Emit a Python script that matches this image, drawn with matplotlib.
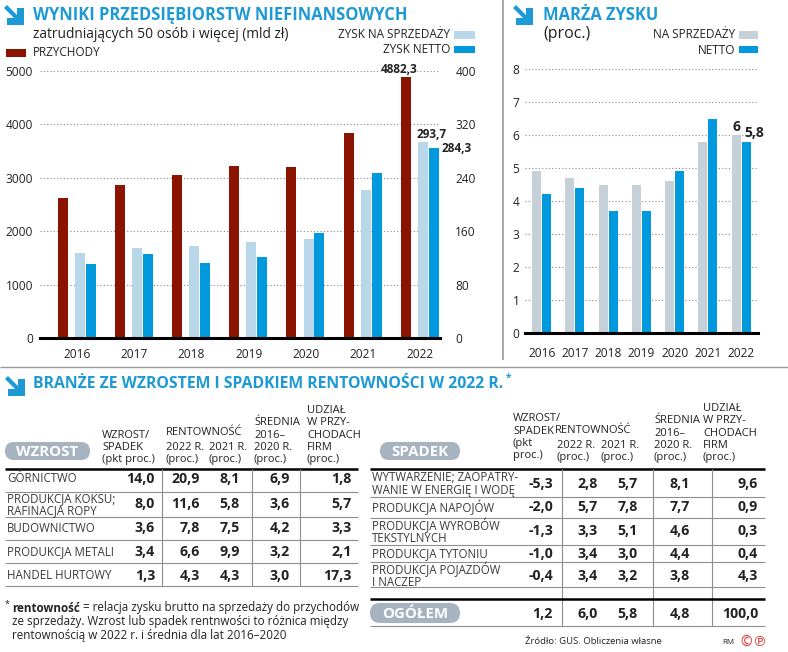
import matplotlib

matplotlib.use("Agg")
import matplotlib.pyplot as plt
import numpy as np
from matplotlib.lines import Line2D
from matplotlib.patches import FancyBboxPatch, Polygon
from matplotlib.transforms import Affine2D

W, H = 788, 652

years = ["2016", "2017", "2018", "2019", "2020", "2021", "2022"]
revenue = [2615, 2860, 3050, 3225, 3200, 3830, 4882.3]
profit_sales = [127.5, 134.5, 137.5, 143.5, 148.5, 221.5, 293.7]
profit_net = [111, 126, 112.5, 121, 158, 247.5, 284.3]
margin_sales = [4.9, 4.7, 4.5, 4.5, 4.6, 5.8, 6.0]
margin_net = [4.2, 4.4, 3.7, 3.7, 4.9, 6.5, 5.8]

growth_names = ["GÓRNICTWO", "PRODUKCJA KOKSU;\nRAFINACJA ROPY", "BUDOWNICTWO",
                "PRODUKCJA METALI", "HANDEL HURTOWY"]
growth_change = [14.0, 8.0, 3.6, 3.4, 1.3]
growth_r2022 = [20.9, 11.6, 7.8, 6.6, 4.3]
growth_r2021 = [8.1, 5.8, 7.5, 9.9, 4.3]
growth_avg = [6.9, 3.6, 4.2, 3.2, 3.0]
growth_share = [1.8, 5.7, 3.3, 2.1, 17.3]

decline_names = ["WYTWARZENIE; ZAOPATRY-\nWANIE W ENERGIĘ I WODĘ", "PRODUKCJA NAPOJÓW",
                 "PRODUKCJA WYROBÓW\nTEKSTYLNYCH", "PRODUKCJA TYTONIU",
                 "PRODUKCJA POJAZDÓW\nI NACZEP"]
decline_change = [-5.3, -2.0, -1.3, -1.0, -0.4]
decline_r2022 = [2.8, 5.7, 3.3, 3.4, 3.4]
decline_r2021 = [5.7, 7.8, 5.1, 3.0, 3.2]
decline_avg = [8.1, 7.7, 4.6, 4.4, 3.8]
decline_share = [9.6, 0.9, 0.3, 0.4, 4.3]

total_values = [1.2, 6.0, 5.8, 4.8, 100.0]

RED = "#8b1400"
LIGHT = "#b8d8ea"
BLUE = "#0099dd"
GREYBAR = "#c5d0d9"
PILL = "#a7b4bf"
TITLE = "#1d9ad6"
TXT = "#222222"
ROWTXT = "#3a3a3a"

plt.rcParams["font.family"] = ["Open Sans", "DejaVu Sans"]

fig = plt.figure(figsize=(W / 100, H / 100), dpi=100)
fig.patch.set_facecolor("white")
# pixel coordinates measured from the top-left corner
P = Affine2D().scale(1 / W, -1 / H).translate(0, 1) + fig.transFigure


def t(x, y, s, **kw):
    kw.setdefault("color", TXT)
    kw.setdefault("va", "center")
    return fig.text(x, y, s, transform=P, **kw)


def line(x0, x1, y0, y1, color="#999999", lw=0.8):
    fig.add_artist(Line2D([x0, x1], [y0, y1], transform=P, color=color, lw=lw,
                          solid_capstyle="butt"))


def arrow_icon(x0, y0, s=1.0):
    pts = [(3, 0), (13, 10), (13, 3), (20, 3), (20, 20), (3, 20), (3, 13), (10, 13), (0, 3)]
    fig.add_artist(Polygon([(x0 + px * s, y0 + py * s) for px, py in pts], closed=True,
                           transform=P, facecolor=TITLE, edgecolor="none"))


def pill(x0, y0, x1, y1, label):
    h = y1 - y0
    fig.add_artist(FancyBboxPatch((x0, y0), x1 - x0, h, transform=P,
                                  boxstyle=f"round,pad=0,rounding_size={h / 2}",
                                  facecolor=PILL, edgecolor="none"))
    t((x0 + x1) / 2, (y0 + y1) / 2 + 0.5, label, ha="center", color="white",
      fontsize=10.8, fontweight="bold")


def swatch(x0, y0, x1, y1, color):
    fig.add_artist(FancyBboxPatch((x0, y0), x1 - x0, y1 - y0, transform=P,
                                  boxstyle="square,pad=0", facecolor=color, edgecolor="none"))


def fmt(v):
    return f"{v:.1f}".replace(".", ",")


# ---------- left chart ----------
arrow_icon(4, 5)
t(33, 15, "WYNIKI PRZEDSIĘBIORSTW NIEFINANSOWYCH", color=TITLE, fontsize=11.9,
  fontweight="bold")
t(33, 34, "zatrudniających 50 osób i więcej (mld zł)", fontsize=9.9)
swatch(6, 49, 26, 57, RED)
t(33, 53, "PRZYCHODY", fontsize=8.5)
t(450, 35, "ZYSK NA SPRZEDAŻY", ha="right", fontsize=8.5)
swatch(454, 31, 475, 39, LIGHT)
t(450, 49.5, "ZYSK NETTO", ha="right", fontsize=8.5)
swatch(454, 46, 475, 53, BLUE)

ax = fig.add_axes([40 / W, 1 - 338 / H, 400 / W, 267 / H])
x = np.arange(len(years))
ax.bar(x - 0.25, revenue, 0.175, color=RED, zorder=2)
ax.set_xlim(-0.65, 6.35)
ax.set_ylim(0, 5000)
ax.set_yticks(range(0, 5001, 1000))
ax.set_xticks(x, years)
ax.grid(axis="y", linestyle=(0, (1, 2)), color="#8a8a8a", lw=0.8)
ax.set_axisbelow(True)
ax.tick_params(length=0, labelsize=8.6, colors=TXT)
ax.tick_params(axis="y", pad=5)
ax.tick_params(axis="x", pad=7)
for sp in ax.spines.values():
    sp.set_visible(False)

ax2 = ax.twinx()
ax2.bar(x + 0.05, profit_sales, 0.175, color=LIGHT, zorder=2)
ax2.bar(x + 0.24, profit_net, 0.175, color=BLUE, zorder=2)
ax2.set_ylim(0, 400)
ax2.set_yticks(range(0, 401, 80))
ax2.tick_params(length=0, labelsize=8.6, colors=TXT, pad=11)
ax2.axhline(0, color="black", lw=2.2, zorder=5, clip_on=False)
for sp in ax2.spines.values():
    sp.set_visible(False)

ax.annotate(fmt(revenue[-1]), (x[-1] - 0.25, revenue[-1]), xytext=(-5, 1),
            textcoords="offset points", ha="center", va="bottom", fontsize=8.5,
            fontweight="bold", color=TXT)
ax2.annotate(fmt(profit_sales[-1]), (x[-1] + 0.05, profit_sales[-1]), xytext=(6, 1),
             textcoords="offset points", ha="center", va="bottom", fontsize=8.5,
             fontweight="bold", color=TXT)
ax2.annotate(fmt(profit_net[-1]), (x[-1] + 0.33, profit_net[-1]), xytext=(2, 0),
             textcoords="offset points", ha="left", va="center", fontsize=8.5,
             fontweight="bold", color=TXT)

# ---------- right chart ----------
line(503, 503, 0, 360, color="#9a9a9a", lw=1.2)
arrow_icon(513, 5)
t(543, 15, "MARŻA ZYSKU", color=TITLE, fontsize=11.9, fontweight="bold")
t(543, 34, "(proc.)", fontsize=11.5)
t(735, 35, "NA SPRZEDAŻY", ha="right", fontsize=8.5)
swatch(739, 31, 758, 39, GREYBAR)
t(735, 50, "NETTO", ha="right", fontsize=8.5)
swatch(739, 46, 758, 53, BLUE)

bx = fig.add_axes([525 / W, 1 - 333 / H, 233 / W, 264 / H])
bx.bar(x - 0.155, margin_sales, 0.27, color=GREYBAR, zorder=2)
bx.bar(x + 0.145, margin_net, 0.27, color=BLUE, zorder=2)
bx.set_xlim(-0.5, 6.5)
bx.set_ylim(0, 8)
bx.set_yticks(range(0, 9))
bx.set_xticks(x, years)
bx.grid(axis="y", linestyle=(0, (1, 2)), color="#8a8a8a", lw=0.8)
bx.set_axisbelow(True)
bx.axhline(0, color="black", lw=2.2, zorder=5, clip_on=False)
bx.tick_params(length=0, labelsize=8.6, colors=TXT)
bx.tick_params(axis="y", pad=4)
bx.tick_params(axis="x", pad=10)
for sp in bx.spines.values():
    sp.set_visible(False)
bx.annotate("6", (x[-1] - 0.155, margin_sales[-1]), xytext=(0, 1), textcoords="offset points",
            ha="center", va="bottom", fontsize=10, fontweight="bold", color=TXT)
bx.annotate(fmt(margin_net[-1]), (x[-1] + 0.1, margin_net[-1]), xytext=(0, 1),
            textcoords="offset points", ha="left", va="bottom", fontsize=10,
            fontweight="bold", color=TXT)

# ---------- tables ----------
line(0, W, 367, 367, color="#9a9a9a", lw=1.0)
arrow_icon(5, 376)
t(33, 384, "BRANŻE ZE WZROSTEM I SPADKIEM RENTOWNOŚCI W 2022 R.", color=TITLE,
  fontsize=11.3, fontweight="bold")
t(506, 378, "*", color=TITLE, fontsize=7, fontweight="bold")

HDR = dict(fontsize=8, ha="left", va="bottom", linespacing=1.15, color=TXT)

# left header
pill(5, 442, 90, 460, "WZROST")
t(102, 465, "WZROST/\nSPADEK\n(pkt proc.)", **HDR)
t(166, 438, "RENTOWNOŚĆ", **HDR)
t(166, 465, "2022 R.\n(proc.)", **HDR)
t(209, 465, "2021 R.\n(proc.)", **HDR)
t(254, 465, "ŚREDNIA\n2016–\n2020 R.\n(proc.)", **HDR)
t(307, 465, "UDZIAŁ\nW PRZY-\nCHODACH\nFIRM\n(proc.)", **HDR)

# right header
pill(380, 442, 460, 460, "SPADEK")
t(513, 461, "WZROST/\nSPADEK\n(pkt\nproc.)", **HDR)
t(555, 436, "RENTOWNOŚĆ", **HDR)
t(557, 463, "2022 R.\n(proc.)", **HDR)
t(601, 463, "2021 R.\n(proc.)", **HDR)
t(654, 463, "ŚREDNIA\n2016–\n2020 R.\n(proc.)", **HDR)
t(703, 463, "UDZIAŁ\nW PRZY-\nCHODACH\nFIRM\n(proc.)", **HDR)


def table(names, cols, rows_y, seps, x0, x1, col_right, vlines, y_top, y_bottom):
    line(x0, x1, y_top, y_top, color="black", lw=1.8)
    for s in seps:
        line(x0, x1, s, s, color="#8f8f8f", lw=0.8)
    for vx in vlines:
        line(vx, vx, y_top, y_bottom, color="#8f8f8f", lw=0.8)
    for i, (name, y) in enumerate(zip(names, rows_y)):
        t(x0 + 2, y, name, fontsize=8.3, color=ROWTXT, linespacing=0.92)
        for c, xr in zip(cols, col_right):
            t(xr, y, fmt(c[i]), ha="right", fontsize=10.2, fontweight="bold")


table(growth_names,
      [growth_change, growth_r2022, growth_r2021, growth_avg, growth_share],
      [479, 504.5, 528.5, 552, 575.5], [492, 517, 540, 563, 586],
      5, 358, [155, 200, 240, 290, 352], [162, 252, 300], 469, 586)

table(decline_names,
      [decline_change, decline_r2022, decline_r2021, decline_avg, decline_share],
      [484, 507, 531, 554, 575.5], [497, 518, 545, 562, 587],
      370, 765, [553, 598, 638, 690, 758], [562, 653, 712], 469, 626)

# total row
line(370, 765, 599, 599, color="black", lw=1.8)
line(370, 765, 626, 626, color="#8f8f8f", lw=0.8)
pill(370, 603, 460, 623, "OGÓŁEM")
for v, xr in zip(total_values, [553, 598, 638, 690, 758]):
    t(xr, 614, fmt(v), ha="right", fontsize=10.2, fontweight="bold")

# footnote
t(5, 604, "*", fontsize=6.5)
bold = t(12, 608, "rentowność", fontsize=8.4, fontweight="bold")
renderer = fig.canvas.get_renderer()
bw = bold.get_window_extent(renderer).width
t(12 + bw, 608, " = relacja zysku brutto na sprzedaży do przychodów", fontsize=8.4)
t(12, 622, "ze sprzedaży. Wzrost lub spadek rentnwości to różnica między", fontsize=8.4)
t(12, 636, "rentownością w 2022 r. i średnia dla lat 2016–2020", fontsize=8.4)

# source
t(525, 641, "Źródło: GUS. Obliczenia własne", fontsize=6.8)
t(722, 643, "RM", fontsize=5.8)
t(740, 642, "©", fontsize=10, color="#e0201b")
t(752, 642, "℗", fontsize=10, color="#e0201b")

fig.savefig("out.png", dpi=100, facecolor="white")
